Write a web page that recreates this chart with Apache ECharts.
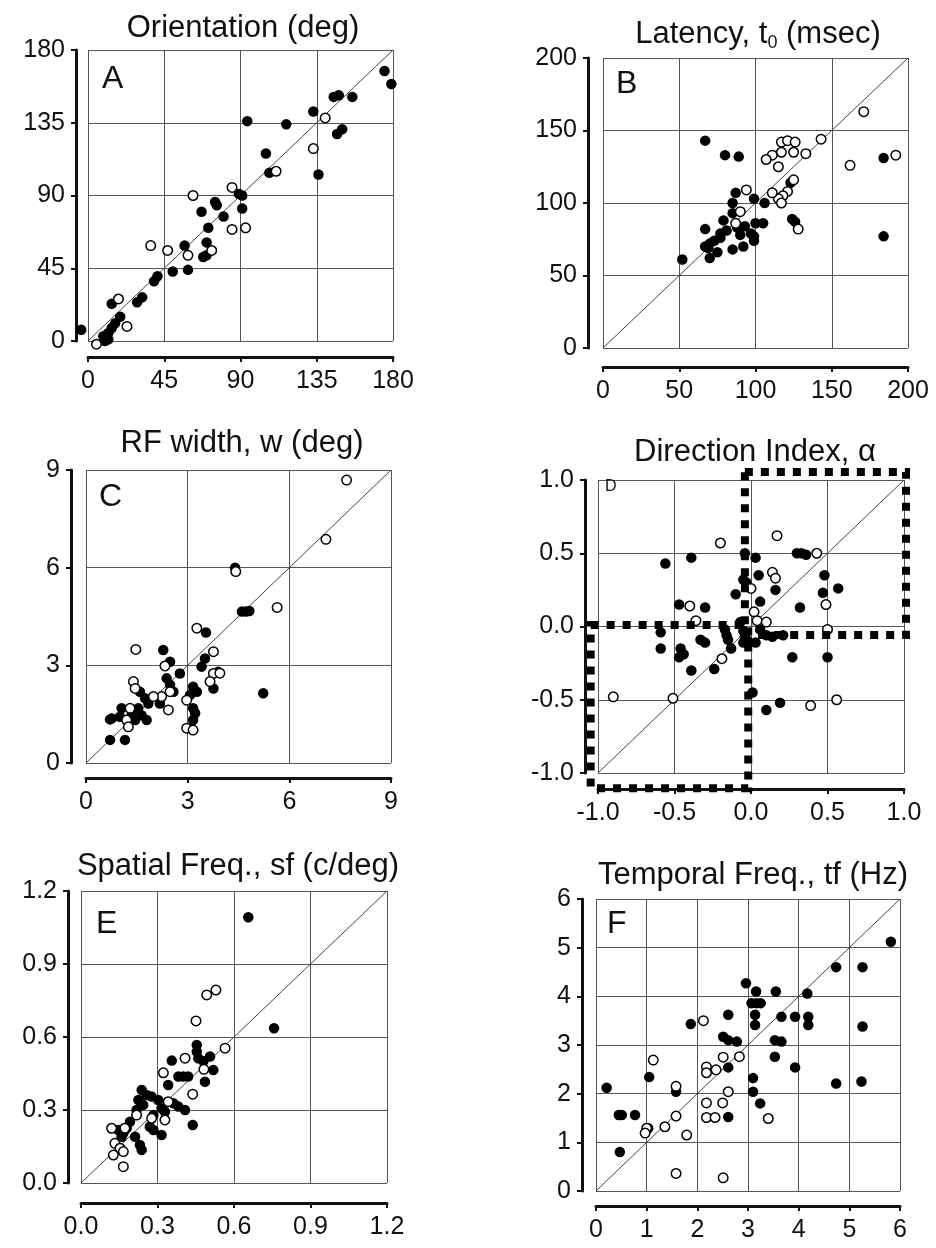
<!DOCTYPE html>
<html>
<head>
<meta charset="utf-8">
<script src="https://cdn.jsdelivr.net/npm/echarts@6/dist/echarts.min.js"></script>
<style>
  html, body { margin: 0; padding: 0; background: #fff; }
  #chart { width: 936px; height: 1248px; }
</style>
</head>
<body>
<div id="chart"></div>
<script>
// axis ticks per panel
const ticksA = [0, 45, 90, 135, 180];
const ticksB = [0, 50, 100, 150, 200];
const ticksC = [0, 3, 6, 9];
const ticksD = [-1, -0.5, 0, 0.5, 1];
const ticksE = [0, 0.3, 0.6, 0.9, 1.2];
const ticksF = [0, 1, 2, 3, 4, 5, 6];

// A: orientation (deg)
const filledA = [[175, 167], [179, 159], [145, 151], [148, 152], [156, 151], [147, 128], [150, 131], [133, 142],
  [94, 136], [117, 134], [105, 116], [107, 104], [136, 103], [89, 91], [91, 90], [91, 82], [75, 86], [76, 84],
  [67, 80], [80, 77], [71, 70], [70, 61], [68, 52], [70, 53], [57, 59], [59, 44], [50, 43], [41, 40], [39, 37],
  [32, 27], [29, 24], [14, 23], [19, 15], [16, 11], [14, 8], [12, 5], [9, 3], [12, 1], [10, 0], [-4, 7]];
const openA = [[140, 138], [133, 119], [111, 105], [85, 95], [62, 90], [85, 69], [93, 70], [37, 59], [47, 56],
  [59, 53], [73, 56], [18, 26], [23, 9], [5, -2]];

// B: latency (msec)
const filledB = [[67, 143], [80, 133], [89, 132], [52, 61], [184, 131], [184, 77], [124, 89], [126, 87], [123, 114],
  [99, 103], [106, 100], [105, 86], [87, 107], [85, 100], [85, 93], [79, 88], [67, 82], [97, 79], [77, 79],
  [81, 81], [90, 78], [70, 72], [73, 74], [77, 76], [69, 69], [67, 70], [85, 68], [92, 70], [99, 74], [70, 62],
  [100, 86], [99, 77], [75, 66], [88, 83], [93, 84]];
const openB = [[171, 163], [143, 144], [162, 126], [192, 133], [128, 82], [117, 142], [121, 143], [126, 142],
  [125, 135], [117, 135], [111, 133], [107, 130], [115, 125], [133, 134], [125, 116], [121, 108], [118, 105],
  [115, 103], [111, 107], [117, 100], [94, 109], [90, 94], [87, 86]];

// C: RF width (deg)
const filledC = [[4.4, 6.0], [4.6, 4.65], [4.72, 4.65], [4.82, 4.67], [3.54, 4.01], [2.28, 3.47], [5.23, 2.14],
  [0.71, 1.34], [0.71, 0.71], [1.15, 0.71], [2.48, 3.11], [2.77, 2.75], [3.41, 2.96], [3.51, 3.21], [3.9, 2.8],
  [3.76, 2.29], [3.16, 2.34], [3.27, 2.19], [3.07, 2.09], [3.16, 1.68], [3.22, 1.53], [3.16, 1.32], [2.38, 2.6],
  [2.48, 2.4], [2.58, 2.19], [2.18, 1.83], [1.59, 2.19], [1.74, 1.99], [1.84, 1.83], [1.54, 1.68], [1.64, 1.47],
  [1.79, 1.32], [1.05, 1.68], [1.0, 1.42], [1.35, 1.47], [1.45, 1.32], [0.76, 1.37]];
const openC = [[7.69, 8.69], [7.08, 6.87], [4.42, 5.88], [5.64, 4.78], [3.27, 4.14], [1.47, 3.49], [3.76, 3.42],
  [2.33, 2.98], [3.76, 2.75], [2.97, 1.93], [2.97, 1.07], [3.16, 1.01], [2.48, 2.19], [2.23, 2.04], [2.43, 1.63],
  [1.99, 2.04], [1.4, 2.5], [1.45, 2.29], [1.3, 1.68], [1.2, 1.32], [1.25, 1.11], [3.95, 2.76], [3.66, 2.5]];

// D: direction index
const filledD = [[-0.56, 0.43], [-0.39, 0.47], [-0.04, 0.5], [0.03, 0.47], [0.3, 0.5], [0.33, 0.5], [0.36, 0.49],
  [0.05, 0.35], [-0.05, 0.32], [-0.03, 0.3], [0.16, 0.25], [0.48, 0.35], [0.47, 0.23], [0.57, 0.26], [-0.1, 0.22],
  [0.06, 0.17], [0.32, 0.13], [-0.47, 0.15], [-0.3, 0.13], [-0.59, -0.04], [-0.59, -0.15], [-0.46, -0.15],
  [-0.44, -0.19], [-0.47, -0.21], [-0.39, -0.3], [-0.33, -0.09], [-0.3, -0.11], [-0.24, -0.29], [-0.17, -0.02],
  [-0.16, -0.06], [-0.15, -0.09], [-0.13, -0.15], [-0.05, -0.11], [-0.04, -0.07], [-0.05, -0.03], [-0.07, 0.03],
  [-0.02, -0.1], [0.03, -0.11], [0.06, -0.02], [0.1, -0.06], [0.14, -0.07], [0.21, -0.06], [0.27, -0.21],
  [0.5, -0.21], [0.01, -0.45], [0.19, -0.52], [0.1, -0.57]];
const openD = [[0.17, 0.62], [-0.2, 0.57], [0.43, 0.5], [0.14, 0.37], [0.16, 0.33], [0.0, 0.26], [0.49, 0.15],
  [-0.4, 0.14], [-0.36, 0.04], [0.02, 0.1], [0.04, 0.04], [0.1, 0.03], [0.5, -0.02], [-0.19, -0.22],
  [-0.9, -0.48], [-0.51, -0.49], [0.39, -0.54], [0.56, -0.5]];
// dotted boxes: [x0, y0, x1, y1]
const boxesD = [[-0.04, 1.055, 1.013, -0.058], [-1.048, 0.01, -0.018, -1.104]];

// E: spatial freq (c/deg)
const filledE = [[0.656, 1.092], [0.757, 0.636], [0.438, 0.238], [0.454, 0.567], [0.454, 0.54], [0.46, 0.513],
  [0.48, 0.5], [0.506, 0.52], [0.519, 0.464], [0.486, 0.416], [0.356, 0.503], [0.382, 0.438], [0.401, 0.438],
  [0.42, 0.438], [0.342, 0.403], [0.238, 0.382], [0.257, 0.362], [0.277, 0.355], [0.225, 0.341], [0.244, 0.321],
  [0.218, 0.3], [0.303, 0.341], [0.316, 0.307], [0.329, 0.293], [0.362, 0.328], [0.382, 0.314], [0.408, 0.3],
  [0.284, 0.279], [0.192, 0.252], [0.179, 0.225], [0.166, 0.204], [0.27, 0.231], [0.284, 0.218], [0.316, 0.197],
  [0.212, 0.19], [0.231, 0.156], [0.238, 0.136], [0.146, 0.218], [0.159, 0.19]];
const openE = [[0.529, 0.793], [0.493, 0.773], [0.451, 0.666], [0.565, 0.554], [0.408, 0.513], [0.323, 0.453],
  [0.438, 0.365], [0.482, 0.467], [0.342, 0.334], [0.329, 0.259], [0.277, 0.266], [0.218, 0.279], [0.12, 0.225],
  [0.172, 0.225], [0.133, 0.163], [0.153, 0.143], [0.127, 0.115], [0.166, 0.129], [0.166, 0.067]];

// F: temporal freq (Hz)
const filledF = [[2.96, 4.27], [3.16, 4.1], [3.55, 4.1], [4.17, 4.06], [3.07, 3.86], [3.17, 3.86], [3.25, 3.86],
  [2.61, 3.62], [3.14, 3.62], [3.14, 3.41], [3.66, 3.58], [3.93, 3.58], [4.19, 3.58], [4.19, 3.41], [1.87, 3.43],
  [2.51, 3.17], [2.61, 3.1], [2.78, 3.07], [3.53, 3.1], [3.66, 3.07], [3.53, 2.76], [3.93, 2.54], [2.61, 2.54],
  [3.1, 2.32], [3.1, 2.04], [3.24, 1.8], [1.05, 2.34], [0.21, 2.12], [1.58, 2.04], [0.45, 1.56], [0.51, 1.56],
  [0.77, 1.56], [2.61, 1.52], [0.47, 0.8], [1.03, 1.29], [5.82, 5.12], [4.74, 4.6], [5.26, 4.6], [5.26, 3.38],
  [4.74, 2.21], [5.24, 2.25]];
const openF = [[2.12, 3.5], [1.13, 2.69], [2.83, 2.76], [2.51, 2.75], [2.18, 2.55], [2.37, 2.49], [2.18, 2.43],
  [1.58, 2.15], [2.61, 2.04], [2.18, 1.81], [2.5, 1.81], [2.18, 1.51], [2.35, 1.51], [3.4, 1.49], [1.58, 1.54],
  [1.36, 1.32], [1.0, 1.29], [0.97, 1.19], [1.79, 1.15], [1.58, 0.36], [2.51, 0.27]];

const FONT = 'Liberation Sans, Arial, Helvetica, sans-serif';

const panels = [
  { ticks: ticksA, filled: filledA, open: openA, dec: 0, grid: { left: 88, top: 50, width: 305, height: 291 }, xOff: 16, yOff: 12 },
  { ticks: ticksB, filled: filledB, open: openB, dec: 0, grid: { left: 603, top: 58, width: 305, height: 290 }, xOff: 19, yOff: 15 },
  { ticks: ticksC, filled: filledC, open: openC, dec: 0, grid: { left: 86, top: 470, width: 305, height: 293 }, xOff: 15, yOff: 15 },
  { ticks: ticksD, filled: filledD, open: openD, dec: 1, grid: { left: 598, top: 480, width: 306, height: 293 }, xOff: 16, yOff: 13 },
  { ticks: ticksE, filled: filledE, open: openE, dec: 1, grid: { left: 81, top: 891, width: 306, height: 292 }, xOff: 20, yOff: 13 },
  { ticks: ticksF, filled: filledF, open: openF, dec: 0, grid: { left: 596, top: 899, width: 304, height: 292 }, xOff: 15, yOff: 14 },
];

const chart = echarts.init(document.getElementById('chart'), null, { renderer: 'canvas' });

const grid = [], xAxis = [], yAxis = [], series = [];

const makeAxis = (p, i, isX) => {
  const t = p.ticks;
  return {
    type: 'value',
    gridIndex: i,
    min: t[0],
    max: t[t.length - 1],
    interval: +(t[1] - t[0]).toFixed(2),
    offset: isX ? p.xOff : p.yOff,
    axisLine: { show: true, onZero: false, lineStyle: { color: '#111', width: 3 } },
    axisTick: { show: true, length: 5, lineStyle: { color: '#111', width: 2 } },
    axisLabel: {
      color: '#111', fontSize: 25, fontFamily: FONT, margin: isX ? 12 : 11,
      formatter: v => Number(v).toFixed(p.dec),
    },
    splitLine: { show: true, lineStyle: { color: '#555', width: 1 } },
  };
};

panels.forEach((p, i) => {
  grid.push(Object.assign({ containLabel: false }, p.grid));
  xAxis.push(makeAxis(p, i, true));
  yAxis.push(makeAxis(p, i, false));
  const lo = p.ticks[0], hi = p.ticks[p.ticks.length - 1];
  series.push({
    type: 'line', xAxisIndex: i, yAxisIndex: i, data: [[lo, lo], [hi, hi]],
    symbol: 'none', silent: true, lineStyle: { color: '#444', width: 1 }, z: 2,
  });
  series.push({
    type: 'scatter', xAxisIndex: i, yAxisIndex: i, data: p.filled, clip: false,
    symbolSize: 10.5, itemStyle: { color: '#000', opacity: 1 }, z: 3,
  });
  series.push({
    type: 'scatter', xAxisIndex: i, yAxisIndex: i, data: p.open, clip: false,
    symbolSize: 9.5, itemStyle: { color: '#fff', borderColor: '#000', borderWidth: 1.5, opacity: 1 }, z: 4,
  });
});

// dotted boxes in panel D
series.push({
  type: 'custom', xAxisIndex: 3, yAxisIndex: 3, data: boxesD, clip: false, z: 5, silent: true,
  renderItem: (params, api) => {
    const a = api.coord([api.value(0), api.value(1)]);
    const b = api.coord([api.value(2), api.value(3)]);
    return {
      type: 'rect',
      shape: { x: Math.min(a[0], b[0]), y: Math.min(a[1], b[1]), width: Math.abs(b[0] - a[0]), height: Math.abs(b[1] - a[1]) },
      style: { fill: null, stroke: '#000', lineWidth: 8, lineDash: [8, 8], lineCap: 'butt' },
    };
  },
});

const titleText = (x, y, text, extra) => ({
  type: 'text', x, y, z: 10, silent: true,
  style: Object.assign({
    text, fill: '#111', fontSize: 31, fontFamily: FONT,
    align: 'center', textAlign: 'center', verticalAlign: 'middle', textVerticalAlign: 'middle',
  }, extra || {}),
});

const letterText = (x, y, text, size) => ({
  type: 'text', x, y, z: 10, silent: true,
  style: { text, fill: '#111', fontSize: size, fontFamily: FONT, align: 'left', verticalAlign: 'top' },
});

const graphic = [
  titleText(243, 28, 'Orientation (deg)'),
  titleText(758, 34, '{a|Latency, t}{s|0}{a| (msec)}', {
    rich: {
      a: { fontSize: 31, fontFamily: FONT, fill: '#111', lineHeight: 36 },
      s: { fontSize: 18, fontFamily: FONT, fill: '#111', lineHeight: 8, verticalAlign: 'bottom' },
    },
  }),
  titleText(242, 443, 'RF width, w (deg)'),
  titleText(755, 452, 'Direction Index, \u03b1'),
  titleText(238, 866, 'Spatial Freq., sf (c/deg)'),
  titleText(753, 875, 'Temporal Freq., tf (Hz)'),
  letterText(102, 63, 'A', 32),
  letterText(616, 68, 'B', 32),
  letterText(99, 481, 'C', 32),
  letterText(605, 479, 'D', 16),
  letterText(96, 908, 'E', 32),
  letterText(607, 908, 'F', 32),
];

chart.setOption({
  animation: false,
  backgroundColor: '#fff',
  grid, xAxis, yAxis, series, graphic,
});
</script>
</body>
</html>
